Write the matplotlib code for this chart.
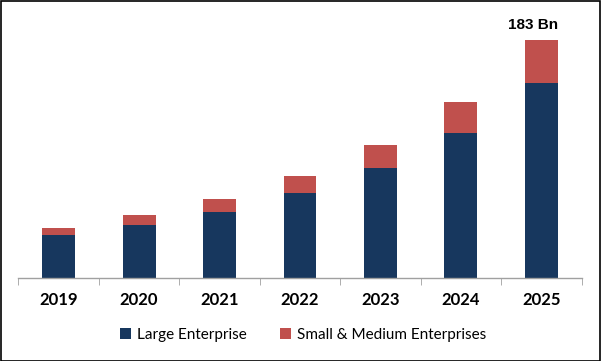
import matplotlib
matplotlib.use("Agg")
import matplotlib.pyplot as plt
from matplotlib.patches import Rectangle

years = ["2019", "2020", "2021", "2022", "2023", "2024", "2025"]
large = [33.1, 40.8, 50.8, 65.6, 84.8, 111.7, 150.2]
small_medium = [5.3, 7.6, 10.0, 12.8, 17.5, 23.6, 32.8]
annotation = "183 Bn"

navy = "#17375E"
red = "#C0504D"

W, H = 601, 361
fig = plt.figure(figsize=(W / 100, H / 100), dpi=100)
left, right = 18.3, 581.7
bottom_px, top_px = 278, 18
ax = fig.add_axes([left / W, (H - bottom_px) / H, (right - left) / W, (bottom_px - top_px) / H])

x = list(range(len(years)))
ax.bar(x, large, width=0.41, color=navy, label="Large Enterprise", zorder=2)
ax.bar(x, small_medium, width=0.41, bottom=large, color=red,
       label="Small & Medium Enterprises", zorder=2)

total_last = large[-1] + small_medium[-1]
ax.text(x[-1] - 0.1, total_last + 6, annotation, ha="center", va="bottom",
        fontsize=11, fontweight="bold", family=["Liberation Sans", "DejaVu Sans"])

ax.set_xlim(-0.5, len(years) - 0.5)
ax.set_ylim(0, 183 * (bottom_px - top_px) / 238)
ax.set_xticks(x)
ax.set_xticklabels(years, fontsize=12, fontweight="bold", family=["Lato", "DejaVu Sans"])
ax.set_xticks([i - 0.5 for i in range(len(years) + 1)], minor=True)
ax.tick_params(axis="x", which="major", length=0, pad=10)
ax.tick_params(axis="x", which="minor", length=5, color="#A0A0A0", direction="out")
ax.set_yticks([])
for s in ["top", "right", "left"]:
    ax.spines[s].set_visible(False)
ax.spines["bottom"].set_color("#A0A0A0")
ax.spines["bottom"].set_linewidth(1)

fig.legend(loc="center", bbox_to_anchor=(303 / W, 1 - 335 / H), ncol=2, frameon=False,
           prop={"family": ["Lato", "DejaVu Sans"], "size": 11},
           handlelength=0.7, handleheight=0.7, handletextpad=0.4, columnspacing=2.2)

fig.patches.append(Rectangle((0.5 / W, 0.5 / H), 1 - 1.5 / W, 1 - 1.5 / H,
                             transform=fig.transFigure, fill=False,
                             edgecolor="black", linewidth=1.2))

fig.savefig("out.png", dpi=100)
